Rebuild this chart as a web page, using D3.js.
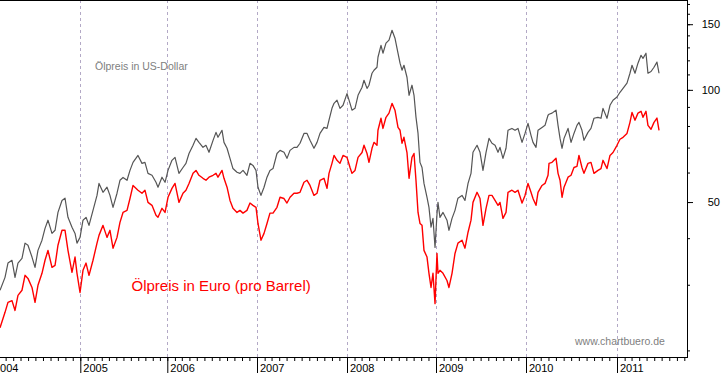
<!DOCTYPE html>
<html>
<head>
<meta charset="utf-8">
<script src="https://cdn.jsdelivr.net/npm/d3@7"></script>
<style>
  body { margin: 0; background: #fff; }
  svg { display: block; font-family: Arial, "Liberation Sans", sans-serif; }
</style>
</head>
<body>
<div id="chart"></div>
<script>
// time as decimal years, prices
const times = [
  2004.101, 2004.157, 2004.190, 2004.235, 2004.269, 2004.302, 2004.347, 2004.381, 2004.414, 2004.459,
  2004.493, 2004.526, 2004.571, 2004.605, 2004.638, 2004.683, 2004.717, 2004.750, 2004.795, 2004.829,
  2004.862, 2004.907, 2004.941, 2004.963, 2004.997,
  2005.031, 2005.066, 2005.100, 2005.146, 2005.192, 2005.215, 2005.261, 2005.307, 2005.341, 2005.376,
  2005.422, 2005.456, 2005.491, 2005.537, 2005.571, 2005.606, 2005.663, 2005.709, 2005.743, 2005.778,
  2005.824, 2005.870, 2005.893, 2005.939, 2005.974,
  2006.008, 2006.052, 2006.086, 2006.130, 2006.175, 2006.208, 2006.242, 2006.287, 2006.320, 2006.353,
  2006.398, 2006.431, 2006.465, 2006.510, 2006.543, 2006.565, 2006.610, 2006.632, 2006.666, 2006.699,
  2006.732, 2006.777, 2006.810, 2006.844, 2006.888, 2006.922, 2006.955, 2006.989,
  2007.011, 2007.044, 2007.078, 2007.111, 2007.144, 2007.178, 2007.222, 2007.256, 2007.300, 2007.333,
  2007.367, 2007.411, 2007.444, 2007.478, 2007.522, 2007.556, 2007.589, 2007.633, 2007.667, 2007.700,
  2007.744, 2007.778, 2007.800, 2007.833, 2007.856, 2007.889, 2007.922, 2007.956,
  2008.000, 2008.034, 2008.056, 2008.090, 2008.124, 2008.169, 2008.191, 2008.225, 2008.247, 2008.281,
  2008.303, 2008.337, 2008.348, 2008.382, 2008.404, 2008.438, 2008.472, 2008.506, 2008.539, 2008.573,
  2008.596, 2008.618, 2008.640, 2008.674, 2008.697, 2008.730, 2008.753, 2008.775, 2008.798, 2008.820,
  2008.843, 2008.865, 2008.899, 2008.921, 2008.944, 2008.966, 2008.989,
  2009.011, 2009.022, 2009.044, 2009.078, 2009.122, 2009.144, 2009.178, 2009.211, 2009.244, 2009.289,
  2009.322, 2009.356, 2009.389, 2009.411, 2009.456, 2009.489, 2009.522, 2009.556, 2009.589, 2009.622,
  2009.656, 2009.689, 2009.711, 2009.744, 2009.778, 2009.800, 2009.844, 2009.878, 2009.911, 2009.956,
  2009.989,
  2010.022, 2010.055, 2010.077, 2010.110, 2010.132, 2010.176, 2010.209, 2010.242, 2010.253, 2010.286,
  2010.330, 2010.352, 2010.374, 2010.396, 2010.418, 2010.462, 2010.495, 2010.527, 2010.560, 2010.582,
  2010.615, 2010.637, 2010.681, 2010.714, 2010.747, 2010.791, 2010.824, 2010.846, 2010.890, 2010.923,
  2010.956,
  2011.000, 2011.033, 2011.067, 2011.111, 2011.144, 2011.167, 2011.200, 2011.233, 2011.267, 2011.289,
  2011.322, 2011.344, 2011.378, 2011.411, 2011.444, 2011.467
];

const usd = [
  29.0, 31.4, 34.3, 34.9, 31.4, 34.3, 35.3, 38.8, 38.3, 35.6,
  33.4, 37.1, 39.5, 42.5, 44.7, 41.2, 42.0, 46.9, 50.5, 51.2,
  45.5, 42.8, 41.2, 38.8, 40.2,
  44.7, 45.5, 43.3, 47.5, 52.1, 56.1, 53.1, 54.8, 52.1, 48.4,
  52.8, 57.2, 58.2, 57.2, 60.8, 63.9, 66.7, 63.5, 63.9, 59.7,
  59.0, 56.5, 54.8, 58.3, 56.5,
  60.8, 64.7, 65.9, 59.7, 61.9, 63.5, 67.5, 71.0, 74.1, 72.3,
  70.1, 71.0, 68.0, 73.2, 76.9, 74.6, 77.9, 72.3, 69.7, 65.5,
  61.5, 60.1, 59.7, 60.8, 59.0, 63.5, 62.7, 60.8,
  54.8, 52.1, 54.8, 58.3, 60.8, 61.5, 67.5, 68.8, 68.0, 65.5,
  68.8, 70.1, 70.1, 71.9, 76.4, 76.4, 73.2, 69.7, 72.3, 76.4,
  79.3, 78.8, 82.9, 89.2, 92.0, 93.8, 89.2, 90.9,
  97.7, 92.0, 88.2, 89.2, 96.7, 101.6, 106.1, 100.9, 102.9, 110.8,
  112.9, 115.0, 122.3, 131.7, 125.4, 133.4, 135.9, 144.5, 137.6, 125.4,
  117.9, 112.9, 116.4, 108.1, 96.7, 102.9, 96.7, 84.5, 76.4, 63.9,
  61.9, 56.1, 51.5, 48.4, 42.8, 45.2, 37.8,
  46.4, 49.9, 45.5, 46.9, 44.7, 42.0, 45.2, 47.5, 51.2, 52.1,
  50.5, 56.1, 59.7, 68.0, 71.0, 68.0, 60.8, 68.0, 74.1, 71.9,
  71.0, 68.0, 70.1, 65.5, 69.7, 77.9, 78.8, 77.9, 78.8, 72.3,
  76.4,
  81.3, 75.5, 72.3, 70.1, 77.9, 79.3, 80.3, 85.5, 86.0, 86.6,
  88.2, 80.3, 74.1, 69.7, 74.1, 78.8, 72.3, 76.4, 80.3, 81.8,
  77.9, 73.2, 76.9, 78.8, 83.9, 84.4, 83.9, 89.2, 83.9, 90.9,
  93.8,
  95.7, 98.5, 100.9, 104.2, 110.8, 116.4, 110.8, 117.9, 123.8, 121.5,
  125.4, 110.8, 112.0, 115.0, 118.7, 110.8
];

const eur = [
  23.0, 25.3, 26.9, 27.2, 25.6, 28.1, 29.0, 31.8, 31.2, 29.5,
  26.9, 29.9, 32.2, 34.9, 37.1, 33.4, 33.8, 38.3, 42.0, 42.0,
  37.1, 32.4, 35.6, 32.2, 28.6,
  32.8, 34.3, 31.8, 34.9, 38.8, 40.7, 43.3, 40.2, 42.0, 37.6,
  40.2, 44.1, 46.9, 47.5, 51.1, 55.4, 53.8, 52.8, 53.8, 49.9,
  49.0, 46.1, 45.5, 48.1, 46.9,
  51.5, 54.4, 56.1, 49.9, 52.8, 53.8, 56.1, 59.7, 60.8, 59.0,
  57.9, 57.2, 58.3, 59.0, 59.7, 58.3, 60.8, 57.9, 54.8, 50.5,
  48.1, 46.9, 47.5, 46.7, 47.5, 49.7, 49.0, 48.4,
  43.8, 39.5, 41.2, 43.8, 46.7, 46.7, 48.4, 51.5, 51.1, 49.7,
  51.5, 52.8, 52.8, 53.1, 56.5, 57.2, 55.4, 52.1, 52.8, 57.2,
  57.9, 54.4, 59.7, 63.5, 66.7, 64.7, 63.5, 66.7,
  65.9, 61.9, 59.7, 60.8, 65.9, 67.9, 71.0, 67.5, 63.9, 69.7,
  72.3, 71.0, 77.9, 83.9, 78.8, 84.4, 86.6, 92.0, 88.2, 79.3,
  77.9, 71.9, 74.6, 67.9, 57.9, 65.9, 67.5, 57.2, 46.9, 43.8,
  43.3, 37.1, 35.6, 32.2, 29.5, 32.2, 26.7,
  36.4, 32.2, 32.8, 32.2, 30.8, 29.5, 32.2, 36.4, 38.8, 39.5,
  37.6, 41.5, 44.7, 49.9, 53.1, 51.1, 43.3, 48.1, 52.1, 52.1,
  50.5, 49.0, 49.9, 45.2, 46.9, 53.1, 53.8, 53.1, 53.8, 49.7,
  52.1,
  56.1, 53.1, 51.1, 49.0, 53.1, 55.4, 56.1, 59.0, 63.5, 63.9,
  65.5, 59.7, 57.2, 51.5, 54.8, 58.3, 59.0, 61.9, 62.3, 66.7,
  61.9, 59.7, 63.5, 63.9, 59.7, 60.8, 61.5, 64.7, 61.5, 66.7,
  67.9,
  71.0, 73.7, 74.6, 76.4, 81.8, 87.0, 82.9, 86.6, 87.6, 84.4,
  87.6, 80.3, 78.4, 81.8, 84.0, 77.9
];

const yearLabels = [2004, 2005, 2006, 2007, 2008, 2009, 2010, 2011];
const yMinorTicks = [20, 30, 40, 50, 60, 70, 80, 90, 100, 110, 120, 130, 140, 150, 160, 170];
const yMajorTicks = [50, 100, 150];

// layout
const W = 723, H = 373;
const axisX = 687, axisY = 357;

function toDate(t) {
  const y = Math.floor(t);
  const a = Date.UTC(y, 0, 1), b = Date.UTC(y + 1, 0, 1);
  return new Date(a + (t - y) * (b - a));
}

const data = times.map((t, i) => ({ date: toDate(t), usd: usd[i], eur: eur[i] }));

const svg = d3.select("#chart")
  .append("svg")
  .attr("width", W)
  .attr("height", H);

svg.append("rect").attr("width", W).attr("height", H).attr("fill", "#fff");

// year boundaries sit slightly unevenly in the original, so use a piecewise time scale
const x = d3.scaleUtc()
  .domain(d3.range(2004, 2013).map(y => new Date(Date.UTC(y, 0, 1))))
  .range([-9, 80.3, 167.3, 257, 347, 436, 526, 617, 707]);

const y = d3.scaleLog()
  .domain([19.2, 174.2])
  .range([axisY, 0]);

const endDate = x.invert(axisX);

// dashed year lines
svg.append("g")
  .selectAll("line")
  .data(yearLabels.slice(1))
  .join("line")
  .attr("x1", d => Math.round(x(new Date(Date.UTC(d, 0, 1)))) + 0.5)
  .attr("x2", d => Math.round(x(new Date(Date.UTC(d, 0, 1)))) + 0.5)
  .attr("y1", 0)
  .attr("y2", axisY)
  .attr("stroke", "#b3a9c6")
  .attr("stroke-dasharray", "3,3");

// top border
svg.append("line")
  .attr("x1", 0).attr("x2", axisX)
  .attr("y1", 0.5).attr("y2", 0.5)
  .attr("stroke", "#000");

// x axis: monthly minor ticks, year ticks run to the bottom
const xMinor = d3.axisBottom(x)
  .tickValues(d3.utcMonth.range(new Date(Date.UTC(2004, 1, 1)), endDate))
  .tickSize(4)
  .tickFormat("");

svg.append("g")
  .attr("transform", `translate(0,${axisY})`)
  .call(xMinor)
  .call(g => g.select(".domain").remove())
  .call(g => g.selectAll("line").attr("stroke", "#000"));

const xYears = d3.axisBottom(x)
  .tickValues(yearLabels.map(d => new Date(Date.UTC(d, 0, 1))))
  .tickSize(H - axisY)
  .tickFormat(d3.utcFormat("%Y"));

svg.append("g")
  .attr("transform", `translate(0,${axisY})`)
  .call(xYears)
  .call(g => g.select(".domain").remove())
  .call(g => g.selectAll("line").attr("stroke", "#000"))
  .call(g => g.selectAll("text")
    .attr("text-anchor", "start")
    .attr("x", 2.5)
    .attr("y", 14.5)
    .attr("dy", null)
    .attr("fill", "#000")
    .style("font-size", "11px")
    .style("font-family", "Arial, 'Liberation Sans', sans-serif"));

svg.append("line")
  .attr("x1", 0).attr("x2", axisX)
  .attr("y1", axisY + 0.5).attr("y2", axisY + 0.5)
  .attr("stroke", "#000");

// y axis on the right, log scale
const yMinor = d3.axisRight(y)
  .tickValues(yMinorTicks)
  .tickSize(3)
  .tickFormat("");

svg.append("g")
  .attr("transform", `translate(${axisX},0)`)
  .call(yMinor)
  .call(g => g.select(".domain").remove())
  .call(g => g.selectAll("line").attr("stroke", "#000"));

const yMajor = d3.axisRight(y)
  .tickValues(yMajorTicks)
  .tickSize(6)
  .tickFormat(d3.format("d"));

svg.append("g")
  .attr("transform", `translate(${axisX},0)`)
  .call(yMajor)
  .call(g => g.select(".domain").remove())
  .call(g => g.selectAll("line").attr("stroke", "#000"))
  .call(g => g.selectAll("text")
    .attr("text-anchor", "end")
    .attr("x", 33)
    .attr("fill", "#000")
    .style("font-size", "11px")
    .style("font-family", "Arial, 'Liberation Sans', sans-serif"));

svg.append("line")
  .attr("x1", axisX + 0.5).attr("x2", axisX + 0.5)
  .attr("y1", 0).attr("y2", axisY + 1)
  .attr("stroke", "#000");

// price lines
const lineUsd = d3.line().x(d => x(d.date)).y(d => y(d.usd));
const lineEur = d3.line().x(d => x(d.date)).y(d => y(d.eur));

svg.append("path")
  .datum(data)
  .attr("fill", "none")
  .attr("stroke", "#555555")
  .attr("stroke-width", 1.2)
  .attr("stroke-linejoin", "round")
  .attr("d", lineUsd);

svg.append("path")
  .datum(data)
  .attr("fill", "none")
  .attr("stroke", "#ff0000")
  .attr("stroke-width", 1.4)
  .attr("stroke-linejoin", "round")
  .attr("d", lineEur);

// labels
svg.append("text")
  .attr("x", 95)
  .attr("y", 69.5)
  .attr("fill", "#808080")
  .style("font-size", "10.5px")
  .text("Ölpreis in US-Dollar");

svg.append("text")
  .attr("x", 131.5)
  .attr("y", 291)
  .attr("fill", "#ff0000")
  .style("font-size", "15px")
  .text("Ölpreis in Euro (pro Barrel)");

svg.append("text")
  .attr("x", 575)
  .attr("y", 344.5)
  .attr("fill", "#808080")
  .style("font-size", "10.5px")
  .text("www.chartbuero.de");
</script>
</body>
</html>
